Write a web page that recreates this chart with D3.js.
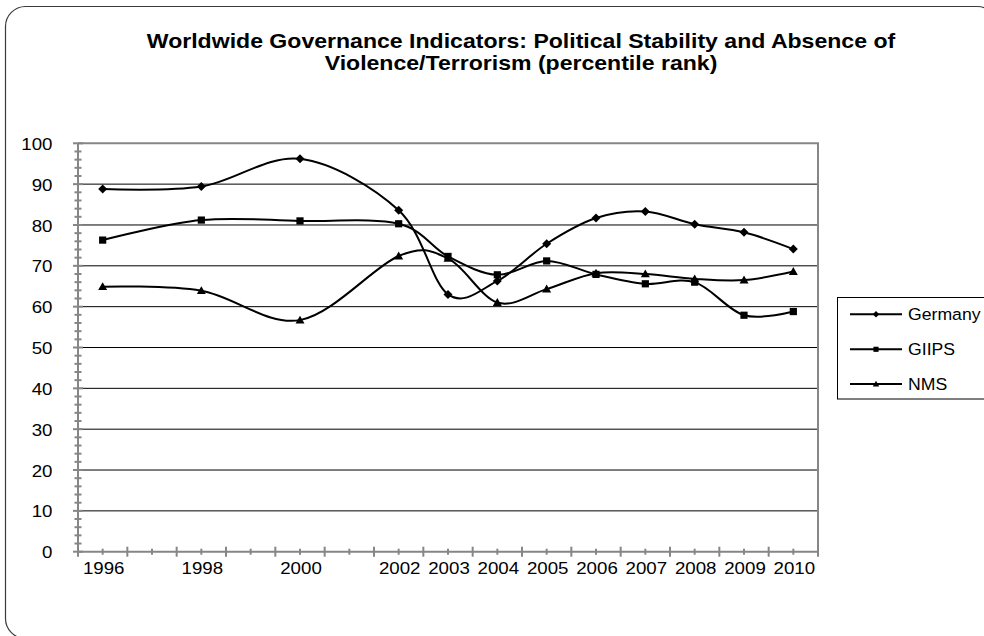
<!DOCTYPE html>
<html>
<head>
<meta charset="utf-8">
<script src="https://cdn.jsdelivr.net/npm/d3@7"></script>
<style>
  html, body { margin: 0; padding: 0; background: #fff; }
  svg { display: block; font-family: "Liberation Sans", Arial, sans-serif; }
</style>
</head>
<body>
<svg id="chart" width="984" height="636"></svg>
<script>
// Survey years (1997, 1999 and 2001 were not surveyed)
const years = [1996, 1998, 2000, 2002, 2003, 2004, 2005, 2006, 2007, 2008, 2009, 2010];

// Percentile rank, 0-100
const germany = [88.8, 89.4, 96.2, 83.6, 63.0, 66.3, 75.4, 81.7, 83.3, 80.2, 78.2, 74.1];
const giips   = [76.3, 81.2, 81.0, 80.3, 72.3, 67.8, 71.2, 67.9, 65.6, 66.0, 57.9, 58.8];
const nms     = [64.9, 63.9, 56.7, 72.4, 71.8, 61.0, 64.3, 68.2, 68.0, 66.8, 66.5, 68.6];

const seriesNames = ["Germany", "GIIPS", "NMS"];
const seriesValues = [germany, giips, nms];
const seriesMarkers = ["diamond", "square", "triangle"];

const yTicks = [0, 10, 20, 30, 40, 50, 60, 70, 80, 90, 100];
const titleLines = [
  "Worldwide Governance Indicators: Political Stability and Absence of",
  "Violence/Terrorism (percentile rank)"
];

const svg = d3.select("#chart");
const plot = { left: 78, right: 818, top: 143.3, bottom: 551.7 };
const axisGrey = "#868686";
const font = "Liberation Sans, Arial, sans-serif";
const textStretch = 1.1;   // text is drawn slightly wide

// Chart frame with rounded corners (runs off the right/bottom edges)
svg.append("rect")
  .attr("x", 5.5).attr("y", 6.5)
  .attr("width", 992).attr("height", 632)
  .attr("rx", 20).attr("ry", 20)
  .attr("fill", "#fff").attr("stroke", "#3a3a3a").attr("stroke-width", 1.2);

// Title, widened to span the chart
const title = svg.append("g");
const titleText = title.append("text")
  .attr("text-anchor", "middle")
  .attr("font-weight", "bold").attr("font-size", 20);
titleText.selectAll("tspan").data(titleLines).join("tspan")
  .attr("x", 0).attr("y", (d, i) => 48.5 + i * 22)
  .text(d => d);
const firstLineWidth = titleText.select("tspan").node().getComputedTextLength();
const titleStretch = 749 / firstLineWidth;
title.attr("transform", `translate(521,0) scale(${titleStretch},1)`);

// Scales: one band per calendar year, points at band centres
const x = d3.scaleLinear().domain([1995.5, 2010.5]).range([plot.left, plot.right]);
const y = d3.scaleLinear().domain([0, 100]).range([plot.bottom, plot.top]);

// Horizontal gridlines
svg.append("g")
  .selectAll("line").data(yTicks.filter(v => v > 0 && v < 100)).join("line")
  .attr("x1", plot.left).attr("x2", plot.right)
  .attr("y1", d => y(d)).attr("y2", d => y(d))
  .attr("stroke", "#000").attr("stroke-width", 1);

// Plot frame (top and right)
svg.append("path")
  .attr("d", `M${plot.left},${plot.top}H${plot.right}V${plot.bottom}`)
  .attr("fill", "none").attr("stroke", axisGrey).attr("stroke-width", 2);

// Y axis with major and minor ticks
const yAxisMajor = d3.axisLeft(y).tickValues(yTicks).tickSize(0).tickPadding(0).tickFormat(d3.format("d"));
const gy = svg.append("g").attr("transform", `translate(${plot.left},0)`).call(yAxisMajor);
gy.select(".domain").remove();
gy.selectAll(".tick line").remove();
gy.selectAll(".tick text")
  .attr("x", 0).attr("dy", "0.36em")
  .attr("transform", `translate(-25.5,0) scale(${textStretch},1)`)
  .attr("font-size", 17).attr("font-family", font).attr("fill", "#000");
gy.selectAll("line.maj").data(yTicks).join("line").attr("class", "maj")
  .attr("x1", -5).attr("x2", 5).attr("y1", d => y(d)).attr("y2", d => y(d))
  .attr("stroke", axisGrey).attr("stroke-width", 2);
gy.selectAll("line.min").data(d3.range(2, 100, 2).filter(v => v % 10 !== 0)).join("line").attr("class", "min")
  .attr("x1", -3.5).attr("x2", 3.5).attr("y1", d => y(d)).attr("y2", d => y(d))
  .attr("stroke", axisGrey).attr("stroke-width", 2);
gy.append("line")
  .attr("x1", 0).attr("x2", 0).attr("y1", plot.top).attr("y2", plot.bottom)
  .attr("stroke", axisGrey).attr("stroke-width", 2);

// X axis: major ticks at year boundaries, minor ticks at year centres
const bounds = d3.range(1995.5, 2011, 1);
const yearCentres = d3.range(1996, 2011, 1);
const xAxis = d3.axisBottom(x).tickValues(years).tickSize(0).tickPadding(0).tickFormat(d3.format("d"));
const gx = svg.append("g").attr("transform", `translate(0,${plot.bottom})`).call(xAxis);
gx.select(".domain").remove();
gx.selectAll(".tick line").remove();
gx.selectAll(".tick text")
  .attr("y", 0).attr("dy", 0)
  .attr("transform", `translate(0.5,22.5) scale(${textStretch},1)`)
  .attr("font-size", 17).attr("font-family", font).attr("fill", "#000");
gx.selectAll("line.maj").data(bounds).join("line").attr("class", "maj")
  .attr("x1", d => x(d)).attr("x2", d => x(d)).attr("y1", -5).attr("y2", 5)
  .attr("stroke", axisGrey).attr("stroke-width", 2);
gx.selectAll("line.min").data(yearCentres).join("line").attr("class", "min")
  .attr("x1", d => x(d)).attr("x2", d => x(d)).attr("y1", -3).attr("y2", 3)
  .attr("stroke", axisGrey).attr("stroke-width", 2);
gx.append("line")
  .attr("x1", plot.left).attr("x2", plot.right).attr("y1", 0).attr("y2", 0)
  .attr("stroke", axisGrey).attr("stroke-width", 2);

// Marker shapes
function marker(sel, type, size) {
  const s = size;
  if (type === "diamond") {
    sel.append("path").attr("d", `M0,${-s}L${s},0L0,${s}L${-s},0Z`);
  } else if (type === "square") {
    sel.append("rect").attr("x", -s * 0.8).attr("y", -s * 0.8).attr("width", s * 1.6).attr("height", s * 1.6);
  } else {
    sel.append("path").attr("d", `M0,${-s}L${s},${s * 0.75}L${-s},${s * 0.75}Z`);
  }
}

// Smoothed series lines
const line = d3.line()
  .x((d, i) => x(years[i]))
  .y(d => y(d))
  .curve(d3.curveCatmullRom.alpha(0));

const series = svg.append("g");
seriesValues.forEach(vals => {
  series.append("path")
    .datum(vals)
    .attr("d", line)
    .attr("fill", "none").attr("stroke", "#000").attr("stroke-width", 2);
});
seriesValues.forEach((vals, si) => {
  const g = series.append("g").attr("fill", "#000");
  vals.forEach((v, i) => {
    const m = g.append("g").attr("transform", `translate(${x(years[i])},${y(v)})`);
    marker(m, seriesMarkers[si], 4.5);
  });
});

// Legend
const legend = svg.append("g");
legend.append("rect")
  .attr("x", 837.5).attr("y", 297.5).attr("width", 170).attr("height", 101.5)
  .attr("fill", "#fff").attr("stroke", "#000").attr("stroke-width", 1);
const legendY = [314.3, 349.3, 384];
seriesNames.forEach((name, i) => {
  const ly = legendY[i];
  legend.append("line").attr("x1", 850).attr("x2", 902).attr("y1", ly).attr("y2", ly)
    .attr("stroke", "#000").attr("stroke-width", 2);
  const m = legend.append("g").attr("fill", "#000").attr("transform", `translate(876,${ly})`);
  marker(m, seriesMarkers[i], 3.2);
  legend.append("text").attr("x", 0).attr("y", 0).attr("dy", "0.36em")
    .attr("transform", `translate(908,${ly}) scale(1.07,1)`)
    .attr("font-size", 16.5).text(name);
});
</script>
</body>
</html>
